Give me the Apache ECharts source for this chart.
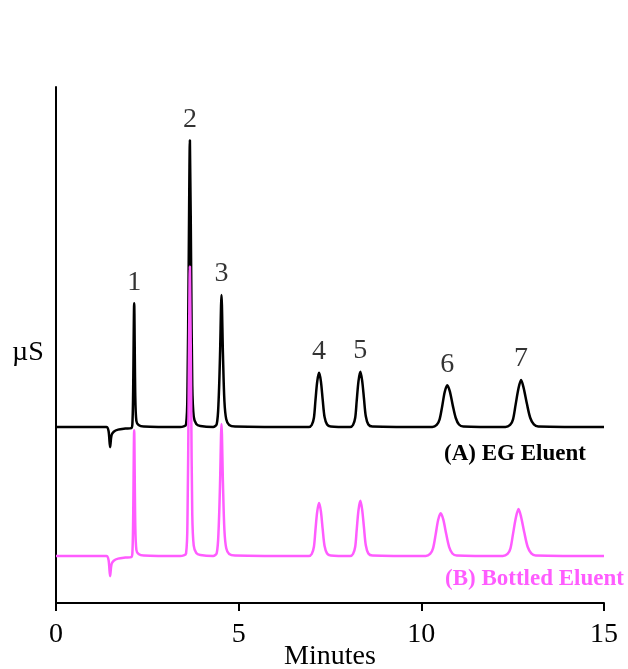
<!DOCTYPE html>
<html>
<head>
<meta charset="utf-8">
<title>EG Eluent vs Bottled Eluent</title>
<script src="https://cdn.jsdelivr.net/npm/echarts@6/dist/echarts.min.js"></script>
<style>
  html, body { margin: 0; padding: 0; background: #fff; }
  #chart { width: 628px; height: 669px; }
</style>
</head>
<body>
<div id="chart"></div>
<script>
// 数据：保留时间 (min) 与信号 (相对基线)
var egTrace = [
    [0, 0], [1.38, 0], [1.44, -0.8], [1.48, -3.9], [1.52, -1.6], [1.58, -0.9], [1.70, -0.5], [1.90, -0.3], [2.06, -0.2],
    [2.09, 0.5], [2.11, 6], [2.14, 24], [2.17, 6], [2.20, 1.2], [2.26, 0.4], [2.40, 0.1],
    [3.40, 0], [3.56, 0.5], [3.60, 8], [3.63, 30], [3.665, 55.6], [3.70, 30], [3.73, 8], [3.77, 2], [3.84, 0.6], [3.95, 0.2],
    [4.30, 0], [4.40, 0.6], [4.45, 5], [4.49, 14], [4.53, 25.6], [4.57, 14], [4.61, 5], [4.66, 1.5], [4.74, 0.4], [4.90, 0.1],
    [6.92, 0], [7.00, 0.4], [7.06, 1.8], [7.10, 5.0], [7.15, 8.8], [7.20, 10.5], [7.25, 8.9], [7.30, 5.3], [7.35, 2.0], [7.42, 0.5], [7.52, 0.1],
    [8.05, 0], [8.13, 0.4], [8.19, 1.8], [8.23, 5.0], [8.28, 8.9], [8.33, 10.7], [8.38, 9.0], [8.43, 5.5], [8.48, 2.1], [8.55, 0.5], [8.66, 0.1],
    [10.30, 0], [10.42, 0.4], [10.50, 1.5], [10.57, 4.0], [10.64, 6.8], [10.71, 8.1], [10.78, 6.9], [10.86, 4.2], [10.94, 1.8], [11.03, 0.5], [11.15, 0.1],
    [12.30, 0], [12.43, 0.4], [12.51, 1.5], [12.58, 4.3], [12.66, 7.5], [12.73, 9.1], [12.80, 7.6], [12.89, 4.5], [12.98, 1.8], [13.08, 0.5], [13.20, 0.1],
    [15, 0]
];
var bottledTrace = [
    [0, 0], [1.38, 0], [1.44, -0.8], [1.48, -3.9], [1.52, -1.6], [1.58, -0.9], [1.70, -0.5], [1.90, -0.3], [2.06, -0.2],
    [2.09, 0.5], [2.11, 6], [2.14, 24.4], [2.17, 6], [2.20, 1.2], [2.26, 0.4], [2.40, 0.1],
    [3.40, 0], [3.56, 0.5], [3.60, 8], [3.63, 30], [3.665, 56.1], [3.70, 30], [3.73, 8], [3.77, 2], [3.84, 0.6], [3.95, 0.2],
    [4.30, 0], [4.40, 0.6], [4.45, 5], [4.49, 14], [4.53, 25.6], [4.57, 14], [4.61, 5], [4.66, 1.5], [4.74, 0.4], [4.90, 0.1],
    [6.92, 0], [7.00, 0.4], [7.06, 1.8], [7.10, 4.9], [7.15, 8.6], [7.20, 10.3], [7.25, 8.7], [7.30, 5.2], [7.35, 2.0], [7.42, 0.5], [7.52, 0.1],
    [8.05, 0], [8.13, 0.4], [8.19, 1.8], [8.23, 5.0], [8.28, 8.9], [8.33, 10.7], [8.38, 9.0], [8.43, 5.5], [8.48, 2.1], [8.55, 0.5], [8.66, 0.1],
    [10.12, 0], [10.24, 0.4], [10.32, 1.5], [10.39, 4.1], [10.46, 7.0], [10.53, 8.3], [10.60, 7.1], [10.68, 4.3], [10.76, 1.8], [10.85, 0.5], [10.97, 0.1],
    [12.23, 0], [12.36, 0.4], [12.44, 1.5], [12.51, 4.3], [12.59, 7.5], [12.66, 9.1], [12.73, 7.6], [12.82, 4.5], [12.91, 1.8], [13.01, 0.5], [13.13, 0.1],
    [15, 0]
];
// 峰编号与保留时间 (EG 谱图)
var peakNames = ['1', '2', '3', '4', '5', '6', '7'];
var peakTimes = [2.14, 3.665, 4.53, 7.20, 8.33, 10.71, 12.73];
var xTicks = [0, 5, 10, 15];

// 两条谱图的基线偏移
var egOffset = 34.1;
var bottledOffset = 9.1;

function shift(trace, off) {
    return trace.map(function (p) { return [p[0], p[1] + off]; });
}
function apexAt(trace, t) {
    var best = null;
    trace.forEach(function (p) { if (p[0] === t) best = p[1]; });
    return best;
}

var font = 'Liberation Serif, Times New Roman, serif';
var pink = '#ff5cff';

var peakLabelData = peakTimes.map(function (t, i) {
    return { value: [t, apexAt(egTrace, t) + egOffset], name: peakNames[i] };
});

var chart = echarts.init(document.getElementById('chart'));
var option = {
    backgroundColor: '#fff',
    animation: false,
    grid: { left: 56, right: 24, top: 87, bottom: 66, containLabel: false, outerBoundsMode: 'none' },
    xAxis: {
        type: 'value',
        min: xTicks[0],
        max: xTicks[xTicks.length - 1],
        interval: 5,
        axisLine: { lineStyle: { color: '#000', width: 2 } },
        axisTick: { length: 8, lineStyle: { color: '#000', width: 2 } },
        axisLabel: { fontFamily: font, fontSize: 28, color: '#000', margin: 18 },
        splitLine: { show: false }
    },
    yAxis: {
        type: 'value',
        min: 0,
        max: 100,
        axisLine: { show: true, lineStyle: { color: '#000', width: 2 } },
        axisTick: { show: false },
        axisLabel: { show: false },
        splitLine: { show: false }
    },
    graphic: [
        { type: 'text', left: 12, top: 339, style: { text: 'µS', font: '28px ' + font, fill: '#000' } },
        { type: 'text', x: 330, y: 657, style: { text: 'Minutes', font: '28px ' + font, fill: '#000', align: 'center', verticalAlign: 'middle' } },
        { type: 'text', left: 444, top: 443, style: { text: '(A) EG Eluent', font: 'bold 23px ' + font, fill: '#000' } },
        { type: 'text', left: 445, top: 568, style: { text: '(B) Bottled Eluent', font: 'bold 23px ' + font, fill: pink } }
    ],
    series: [
        {
            name: '(A) EG Eluent',
            type: 'line',
            data: shift(egTrace, egOffset),
            showSymbol: false,
            smooth: 0.3,
            lineStyle: { color: '#000', width: 2.5 },
            z: 2
        },
        {
            name: '(B) Bottled Eluent',
            type: 'line',
            data: shift(bottledTrace, bottledOffset),
            showSymbol: false,
            smooth: 0.3,
            lineStyle: { color: pink, width: 2.5 },
            z: 3
        },
        {
            name: 'peaks',
            type: 'scatter',
            data: peakLabelData,
            symbolSize: 0,
            label: {
                show: true,
                position: 'top',
                distance: 7,
                formatter: '{b}',
                fontFamily: font,
                fontSize: 28,
                color: '#000'
            },
            z: 4
        }
    ]
};
chart.setOption(option);
</script>
</body>
</html>
